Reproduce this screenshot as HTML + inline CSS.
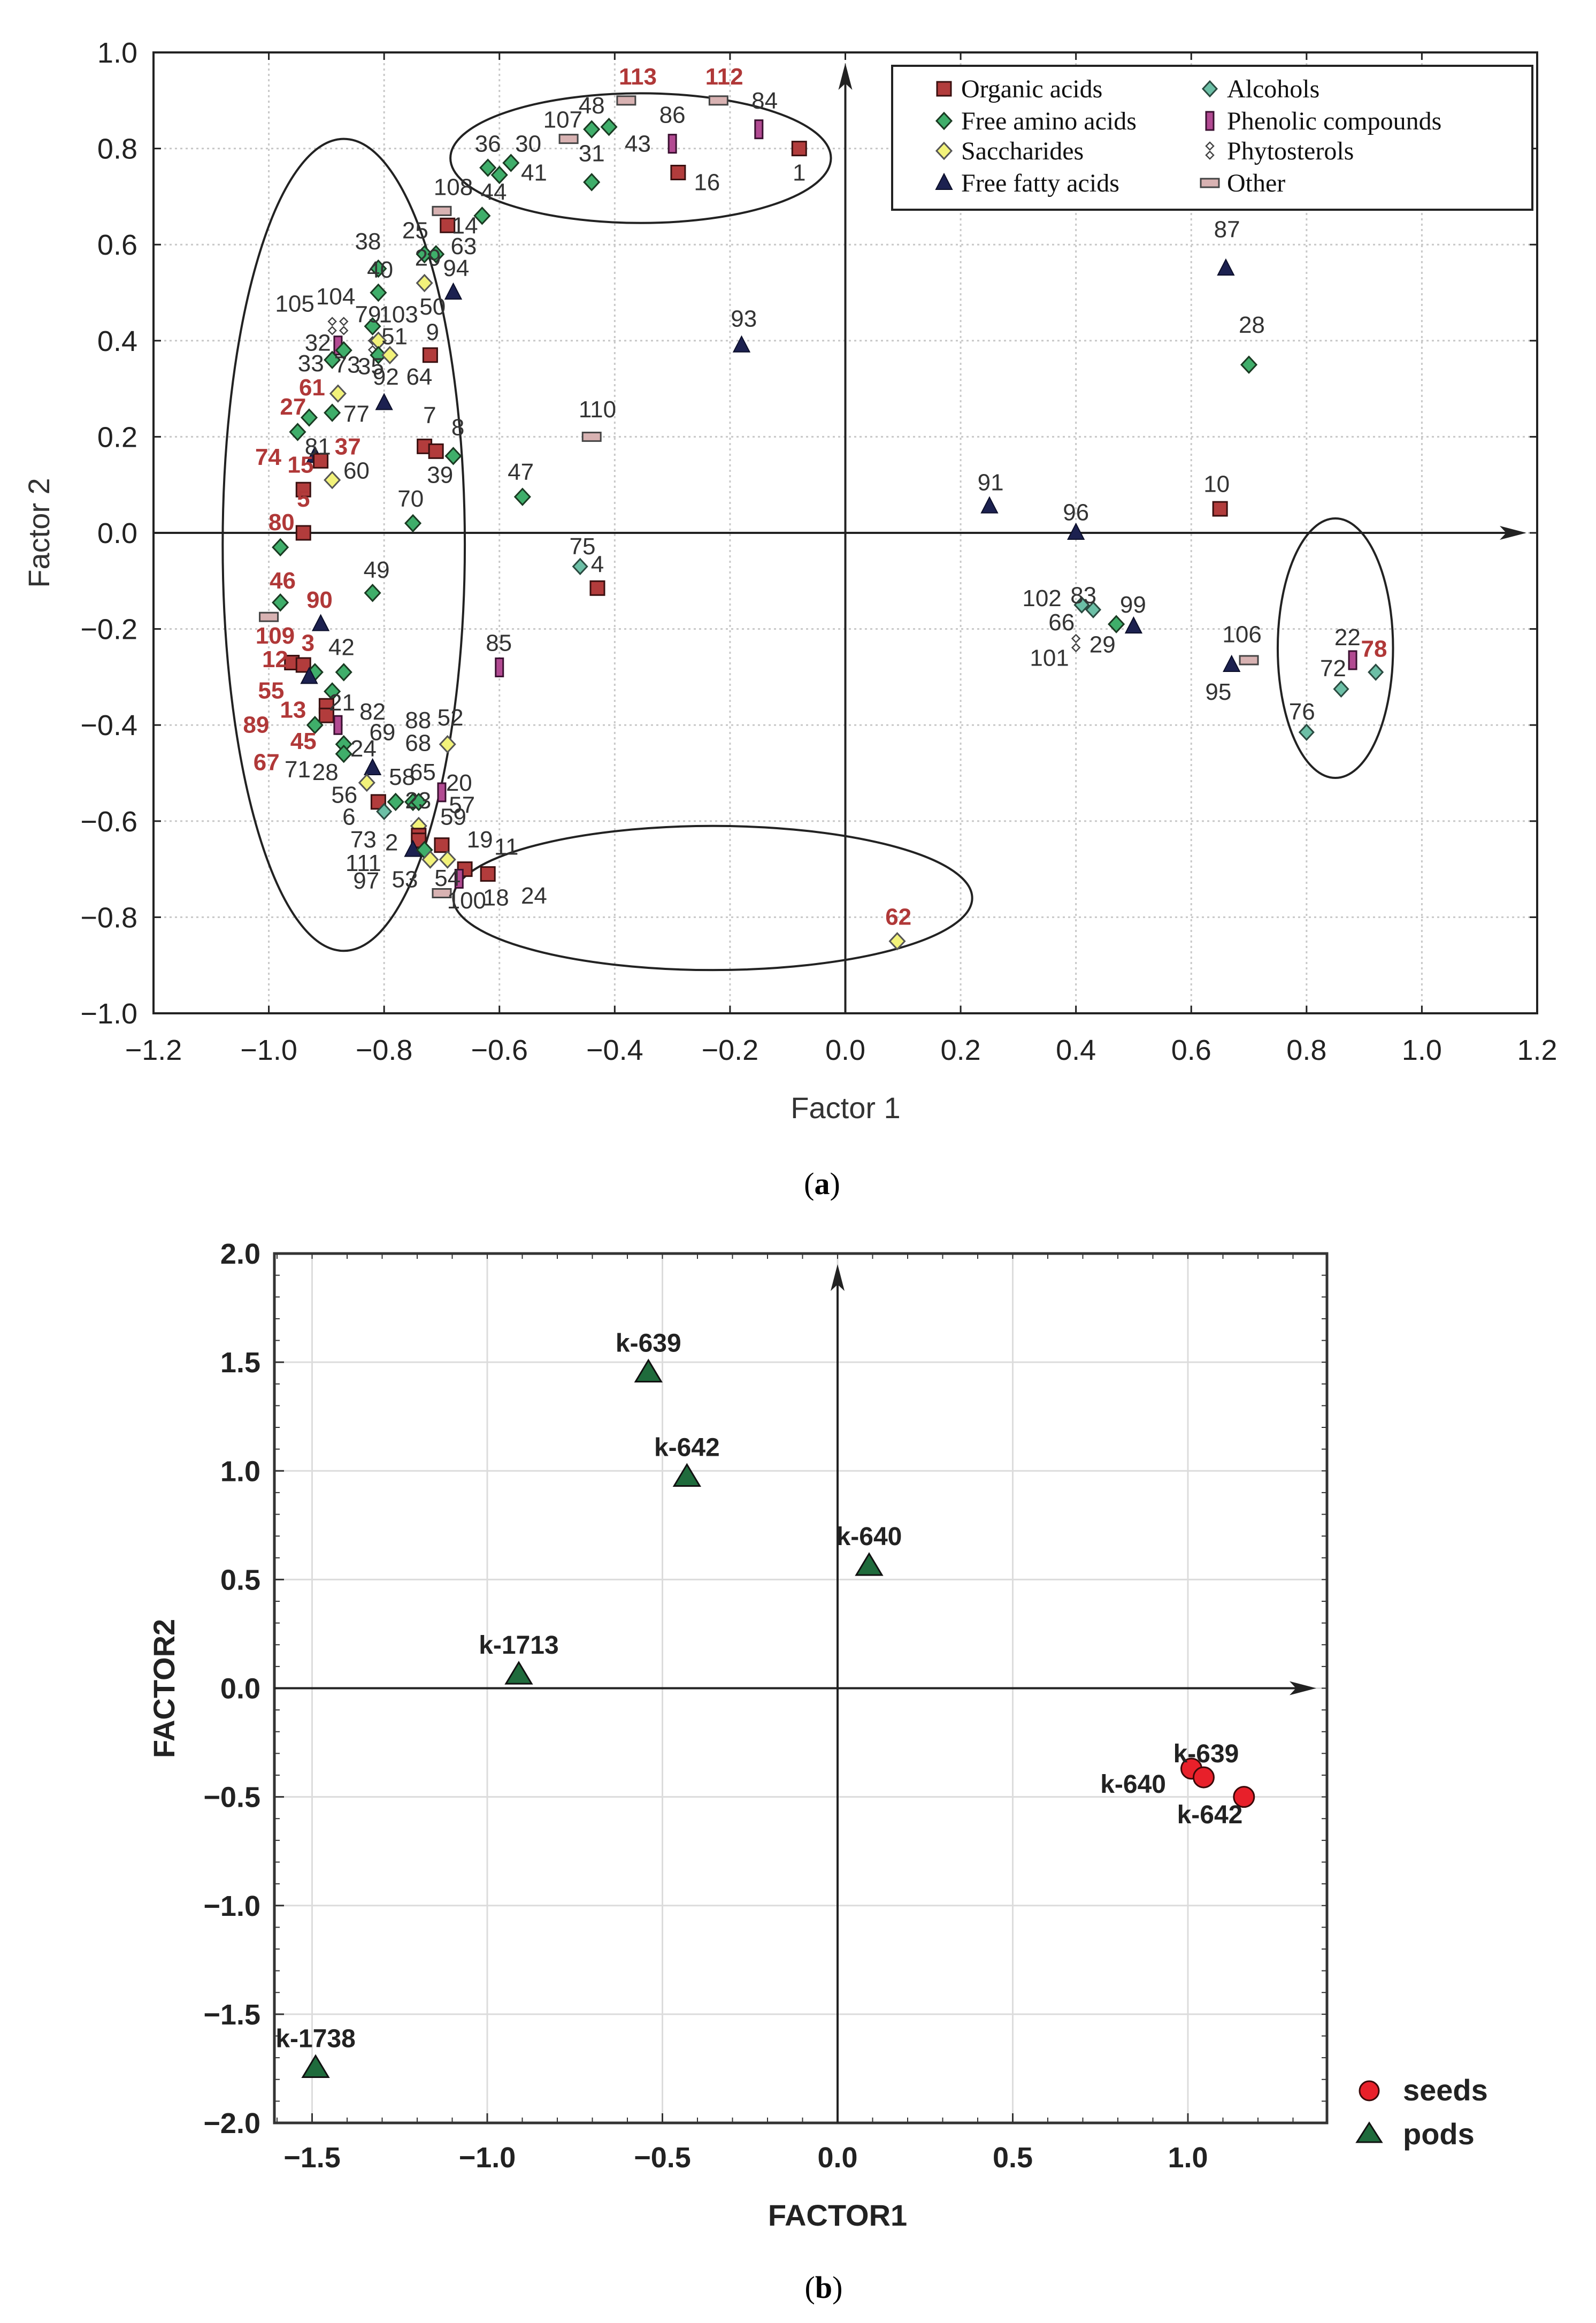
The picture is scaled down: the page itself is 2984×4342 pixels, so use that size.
<!DOCTYPE html>
<html><head><meta charset="utf-8">
<style>
html,body{margin:0;padding:0;background:#fff;}
svg{display:block;}
</style></head>
<body>
<svg id="fig" width="2984" height="4342" viewBox="0 0 2984 4342" xmlns="http://www.w3.org/2000/svg">
<rect x="0" y="0" width="2984" height="4342" fill="#fff"/>
<g id="pa"></g>
<g id="pb"></g>
<text x="1537" y="2232" font-family="Liberation Serif, serif" font-size="58" text-anchor="middle">(<tspan font-weight="bold">a</tspan>)</text>
<text x="1540" y="4295" font-family="Liberation Serif, serif" font-size="58" text-anchor="middle">(<tspan font-weight="bold">b</tspan>)</text>
</svg>
<script>
// ---------- Panel A data ----------
const aTypes = ["O","A","S","F","L","P","T","X"];
const aTypeNames = ["Organic acids","Free amino acids","Saccharides","Free fatty acids","Alcohols","Phenolic compounds","Phytosterols","Other"];
// points: [type, factor1, factor2]
const aPoints = [
["X",-0.38,0.90],["X",-0.22,0.90],["P",-0.15,0.84],["O",-0.08,0.80],["P",-0.30,0.81],["O",-0.29,0.75],
["X",-0.48,0.82],["A",-0.44,0.84],["A",-0.41,0.845],["A",-0.44,0.73],["A",-0.62,0.76],["A",-0.60,0.745],["A",-0.58,0.77],
["X",-0.70,0.67],["A",-0.63,0.66],["O",-0.69,0.64],["A",-0.73,0.58],["A",-0.71,0.58],["F",-0.68,0.50],
["A",-0.81,0.55],["A",-0.81,0.50],["S",-0.73,0.52],["T",-0.89,0.43],["T",-0.87,0.43],["A",-0.82,0.43],
["P",-0.88,0.39],["A",-0.87,0.38],["T",-0.82,0.39],["S",-0.81,0.40],["A",-0.81,0.37],["S",-0.79,0.37],
["O",-0.72,0.37],["A",-0.89,0.36],["F",-0.80,0.27],["S",-0.88,0.29],["A",-0.93,0.24],["A",-0.89,0.25],
["A",-0.95,0.21],["O",-0.73,0.18],["O",-0.71,0.17],["A",-0.68,0.16],["F",-0.92,0.16],["O",-0.91,0.15],
["S",-0.89,0.11],["O",-0.94,0.09],["A",-0.56,0.075],["A",-0.75,0.02],["O",-0.94,0.0],["A",-0.98,-0.03],
["X",-0.44,0.20],["F",-0.18,0.39],["L",-0.46,-0.07],["O",-0.43,-0.115],["A",-0.98,-0.145],["A",-0.82,-0.125],
["X",-1.0,-0.175],["F",-0.91,-0.19],["O",-0.96,-0.27],["O",-0.94,-0.275],["A",-0.92,-0.29],["F",-0.93,-0.30],["A",-0.87,-0.29],
["P",-0.60,-0.28],["A",-0.89,-0.33],["O",-0.90,-0.36],["O",-0.90,-0.38],["P",-0.88,-0.40],["A",-0.92,-0.40],
["A",-0.87,-0.44],["A",-0.87,-0.46],["F",-0.82,-0.49],["S",-0.83,-0.52],["S",-0.69,-0.44],
["O",-0.81,-0.56],["A",-0.78,-0.56],["A",-0.75,-0.56],["A",-0.74,-0.56],["L",-0.80,-0.58],["P",-0.70,-0.54],
["S",-0.74,-0.61],["O",-0.74,-0.63],["O",-0.74,-0.64],["F",-0.75,-0.66],["A",-0.73,-0.66],["O",-0.70,-0.65],
["S",-0.72,-0.68],["S",-0.69,-0.68],["O",-0.66,-0.70],["O",-0.62,-0.71],["P",-0.67,-0.72],["X",-0.70,-0.75],
["S",0.09,-0.85],["F",0.25,0.055],["F",0.40,0.0],["O",0.65,0.05],["F",0.66,0.55],["A",0.70,0.35],
["L",0.41,-0.15],["L",0.43,-0.16],["A",0.47,-0.19],["T",0.40,-0.23],["F",0.50,-0.195],
["F",0.67,-0.275],["X",0.70,-0.265],["P",0.88,-0.265],["L",0.92,-0.29],["L",0.86,-0.325],["L",0.80,-0.415]
];
// labels: [text, factor1, factor2, highlighted(1=red bold)]
const aLabels = [
["113",-0.36,0.95,1],["112",-0.21,0.95,1],["84",-0.14,0.90,0],["1",-0.08,0.75,0],["86",-0.30,0.87,0],["16",-0.24,0.73,0],
["107",-0.49,0.86,0],["48",-0.44,0.89,0],["43",-0.36,0.81,0],["31",-0.44,0.79,0],["36",-0.62,0.81,0],["30",-0.55,0.81,0],
["41",-0.54,0.75,0],["108",-0.68,0.72,0],["44",-0.61,0.71,0],["14",-0.66,0.64,0],["25",-0.746,0.63,0],["63",-0.662,0.597,0],
["29",-0.724,0.573,0],["94",-0.675,0.551,0],["38",-0.828,0.607,0],["40",-0.807,0.548,0],["105",-0.955,0.477,0],["104",-0.884,0.492,0],
["79",-0.828,0.455,0],["103",-0.775,0.455,0],["50",-0.716,0.471,0],["32",-0.915,0.396,0],["51",-0.782,0.409,0],["9",-0.716,0.418,0],
["33",-0.927,0.353,0],["73",-0.864,0.350,0],["35",-0.823,0.347,0],["92",-0.797,0.325,0],["64",-0.739,0.325,0],["61",-0.925,0.303,1],
["27",-0.958,0.263,1],["77",-0.848,0.248,0],["7",-0.721,0.245,0],["8",-0.672,0.220,0],["81",-0.915,0.180,0],["74",-1.001,0.158,1],
["37",-0.863,0.180,1],["15",-0.945,0.142,1],["60",-0.848,0.130,0],["39",-0.703,0.121,0],["70",-0.754,0.071,0],["47",-0.563,0.127,0],
["5",-0.940,0.071,1],["80",-0.978,0.022,1],["110",-0.430,0.257,0],["93",-0.176,0.446,0],["75",-0.456,-0.028,0],["4",-0.430,-0.065,0],
["46",-0.976,-0.099,1],["49",-0.813,-0.077,0],["90",-0.912,-0.139,1],["109",-0.989,-0.214,1],["3",-0.932,-0.229,1],["42",-0.874,-0.238,0],
["12",-0.989,-0.263,1],["85",-0.601,-0.229,0],["55",-0.996,-0.328,1],["21",-0.873,-0.353,0],["13",-0.958,-0.368,1],["82",-0.820,-0.372,0],
["88",-0.741,-0.390,0],["52",-0.685,-0.384,0],["89",-1.022,-0.399,1],["69",-0.803,-0.415,0],["68",-0.741,-0.437,0],["45",-0.940,-0.433,1],
["24",-0.836,-0.449,0],["67",-1.004,-0.477,1],["71",-0.950,-0.492,0],["28",-0.902,-0.498,0],["58",-0.769,-0.508,0],["65",-0.733,-0.498,0],
["20",-0.670,-0.520,0],["56",-0.869,-0.545,0],["23",-0.741,-0.557,0],["57",-0.665,-0.566,0],["6",-0.861,-0.591,0],["59",-0.680,-0.591,0],
["73",-0.836,-0.638,0],["2",-0.787,-0.644,0],["19",-0.634,-0.638,0],["11",-0.588,-0.653,0],["111",-0.836,-0.687,0],["97",-0.831,-0.724,0],
["53",-0.764,-0.721,0],["54",-0.690,-0.718,0],["18",-0.606,-0.759,0],["24",-0.540,-0.755,0],["100",-0.657,-0.765,0],["62",0.092,-0.799,1],
["87",0.662,0.632,0],["28",0.705,0.433,0],["91",0.252,0.105,0],["96",0.400,0.043,0],["10",0.644,0.102,0],["102",0.341,-0.136,0],
["83",0.413,-0.130,0],["66",0.375,-0.186,0],["29",0.446,-0.232,0],["101",0.354,-0.260,0],["99",0.499,-0.149,0],["106",0.688,-0.211,0],
["95",0.647,-0.331,0],["22",0.871,-0.217,0],["78",0.917,-0.241,1],["72",0.846,-0.282,0],["76",0.792,-0.372,0]
];
// ellipses: [cx, cy, rx, ry]
const aEllipses = [[-0.87,-0.025,0.21,0.845],[-0.355,0.78,0.33,0.135],[-0.23,-0.76,0.45,0.15],[0.85,-0.24,0.10,0.27]];
const aXTicks = [-1.2,-1.0,-0.8,-0.6,-0.4,-0.2,0.0,0.2,0.4,0.6,0.8,1.0,1.2];
const aYTicks = [1.0,0.8,0.6,0.4,0.2,0.0,-0.2,-0.4,-0.6,-0.8,-1.0];

// ---------- Panel B data ----------
const bPodNames = ["k-639","k-642","k-640","k-1713","k-1738"];
const bPodF1 = [-0.54,-0.43,0.09,-0.91,-1.49];
const bPodF2 = [1.45,0.97,0.56,0.06,-1.75];
const bSeedNames = ["k-639","k-640","k-642"];
const bSeedF1 = [1.01,1.045,1.16];
const bSeedF2 = [-0.37,-0.41,-0.50];
const bXTicks = [-1.5,-1.0,-0.5,0.0,0.5,1.0];
const bYTicks = [2.0,1.5,1.0,0.5,0.0,-0.5,-1.0,-1.5,-2.0];

const NS="http://www.w3.org/2000/svg";
function mk(parent,tag,attrs){const e=document.createElementNS(NS,tag);for(const k in attrs)e.setAttribute(k,attrs[k]);parent.appendChild(e);return e;}
const fmt=v=>(v<0?"\u2212":"")+Math.abs(v).toFixed(1);

// ---------- draw panel A ----------
(function(){
const g=document.getElementById('pa');
const L=287,R=2874,T=98,B=1894;
const xs=v=>L+(v+1.2)/2.4*(R-L);
const ys=v=>T+(1.0-v)/2.0*(B-T);
// grid
aXTicks.forEach(t=>{if(t>-1.2&&t<1.2){const ln=mk(g,'line',{x1:xs(t),x2:xs(t),y1:T,y2:B,stroke:'#c8c8c8','stroke-width':3,'stroke-dasharray':'4,6'});
}});
aYTicks.forEach(t=>{if(t>-1&&t<1){const ln=mk(g,'line',{x1:L,x2:R,y1:ys(t),y2:ys(t),stroke:'#c8c8c8','stroke-width':3,'stroke-dasharray':'4,6'});
}});
// frame
const fr=mk(g,'rect',{x:L,y:T,width:R-L,height:B-T,fill:'none',stroke:'#222','stroke-width':4});

// ticks & labels
aXTicks.forEach(t=>{mk(g,'line',{x1:xs(t),x2:xs(t),y1:B,y2:B-14,stroke:'#222','stroke-width':3});
mk(g,'line',{x1:xs(t),x2:xs(t),y1:T,y2:T+14,stroke:'#222','stroke-width':3});
const tx=mk(g,'text',{x:xs(t),y:B+87,'font-family':'Liberation Sans, sans-serif','font-size':54,'text-anchor':'middle',fill:'#222'});tx.textContent=fmt(t);
});
aYTicks.forEach(t=>{mk(g,'line',{x1:L,x2:L+14,y1:ys(t),y2:ys(t),stroke:'#222','stroke-width':3});
mk(g,'line',{x1:R,x2:R-14,y1:ys(t),y2:ys(t),stroke:'#222','stroke-width':3});
const tx=mk(g,'text',{x:257,y:ys(t)+19,'font-family':'Liberation Sans, sans-serif','font-size':54,'text-anchor':'end',fill:'#222'});tx.textContent=fmt(t);
});
// axes with arrows
const ax=mk(g,'line',{x1:L,x2:R-30,y1:ys(0),y2:ys(0),stroke:'#222','stroke-width':4});

mk(g,'path',{d:`M${R-20} ${ys(0)} l-50 -13 l12 13 l-12 13 z`,fill:'#222'});
const ay=mk(g,'line',{x1:xs(0),x2:xs(0),y1:T+30,y2:B,stroke:'#222','stroke-width':4});

mk(g,'path',{d:`M${xs(0)} ${T+20} l-13 50 l13 -12 l13 12 z`,fill:'#222'});
// ellipses
aEllipses.forEach(e=>{const el=mk(g,'ellipse',{cx:xs(e[0]),cy:ys(e[1]),rx:e[2]/2.4*(R-L),ry:e[3]/2.0*(B-T),fill:'none',stroke:'#222','stroke-width':4});
});
// markers
function marker(parent,type,cx,cy){
 let e;
 if(type==='O'){e=mk(parent,'rect',{x:cx-13,y:cy-13,width:26,height:26,fill:'#b23c3c',stroke:'#3a1010','stroke-width':3});}
 else if(type==='A'){e=mk(parent,'path',{d:`M${cx} ${cy-15} L${cx+14} ${cy} L${cx} ${cy+15} L${cx-14} ${cy} Z`,fill:'#3fae6a',stroke:'#1a3a22','stroke-width':3});}
 else if(type==='S'){e=mk(parent,'path',{d:`M${cx} ${cy-15} L${cx+14} ${cy} L${cx} ${cy+15} L${cx-14} ${cy} Z`,fill:'#f2f27a',stroke:'#555','stroke-width':3});}
 else if(type==='L'){e=mk(parent,'path',{d:`M${cx} ${cy-14} L${cx+13} ${cy} L${cx} ${cy+14} L${cx-13} ${cy} Z`,fill:'#6cbfa6',stroke:'#2a4a40','stroke-width':3});}
 else if(type==='F'){e=mk(parent,'path',{d:`M${cx} ${cy-17} L${cx+15} ${cy+12} L${cx-15} ${cy+12} Z`,fill:'#1c2150',stroke:'#0c0f2a','stroke-width':2});}
 else if(type==='P'){e=mk(parent,'rect',{x:cx-7,y:cy-17,width:14,height:34,fill:'#b24a92',stroke:'#3a1030','stroke-width':3});}
 else if(type==='T'){e=mk(parent,'path',{d:`M${cx} ${cy-16} l7 7 l-7 7 l-7 -7 z M${cx} ${cy+1} l7 7 l-7 7 l-7 -7 z`,fill:'#fff',stroke:'#444','stroke-width':2.5});}
 else {e=mk(parent,'rect',{x:cx-17,y:cy-8,width:34,height:16,fill:'#d8b2b2',stroke:'#444','stroke-width':3});}
 return e;
}
aPoints.forEach(p=>{const m=marker(g,p[0],xs(p[1]),ys(p[2]));

});
aLabels.forEach(l=>{const t=mk(g,'text',{x:xs(l[1]),y:ys(l[2])+15,'font-family':'Liberation Sans, sans-serif','font-size':44,'text-anchor':'middle',fill:l[3]?'#b03838':'#333','font-weight':l[3]?'bold':'normal'});
t.textContent=l[0];

});
// legend
const lg=mk(g,'g',{});

mk(lg,'rect',{x:1668,y:123,width:1197,height:269,fill:'#fff',stroke:'#222','stroke-width':4});
const rows=[168,228,284,344];
aTypeNames.forEach((nm,i)=>{const col=i<4?0:1;const r=i%4;
const order=["O","A","S","F","L","P","T","X"];
const cx=col?2262:1765,cy=rows[r]-2;
const m=marker(lg,order[i],cx,cy);

const t=mk(lg,'text',{x:cx+32,y:rows[r]+14,'font-family':'Liberation Serif, serif','font-size':48,fill:'#111'});
t.textContent=nm;

});
// titles
const xt=mk(g,'text',{x:1581,y:2090,'font-family':'Liberation Sans, sans-serif','font-size':56,'text-anchor':'middle',fill:'#333'});xt.textContent='Factor 1';

const yt=mk(g,'text',{x:0,y:0,transform:'translate(92 996) rotate(-90)','font-family':'Liberation Sans, sans-serif','font-size':56,'text-anchor':'middle',fill:'#333'});yt.textContent='Factor 2';

})();

// ---------- draw panel B ----------
(function(){
const g=document.getElementById('pb');
const L=513,R=2481,T=2343,B=3968;
const X0=1566,XU=655;
const xs=v=>X0+v*XU;
const ys=v=>T+(2.0-v)/4.0*(B-T);
bXTicks.forEach(t=>{if(xs(t)>L+5){const ln=mk(g,'line',{x1:xs(t),x2:xs(t),y1:T,y2:B,stroke:'#dcdcdc','stroke-width':3});
}});
bYTicks.forEach(t=>{if(t<2&&t>-2){const ln=mk(g,'line',{x1:L,x2:R,y1:ys(t),y2:ys(t),stroke:'#dcdcdc','stroke-width':3});
}});
const fr=mk(g,'rect',{x:L,y:T,width:R-L,height:B-T,fill:'none',stroke:'#333','stroke-width':5});

// minor ticks
for(let v=-1.6;v<=1.4;v+=0.1){const x=xs(v);if(x>L&&x<R){mk(g,'line',{x1:x,x2:x,y1:B,y2:B-10,stroke:'#333','stroke-width':2});mk(g,'line',{x1:x,x2:x,y1:T,y2:T+10,stroke:'#333','stroke-width':2});}}
for(let v=-2;v<=2;v+=0.1){const y=ys(v);mk(g,'line',{x1:L,x2:L+10,y1:y,y2:y,stroke:'#333','stroke-width':2});mk(g,'line',{x1:R,x2:R-10,y1:y,y2:y,stroke:'#333','stroke-width':2});}
bXTicks.forEach(t=>{mk(g,'line',{x1:xs(t),x2:xs(t),y1:B,y2:B-18,stroke:'#333','stroke-width':3});
const tx=mk(g,'text',{x:xs(t),y:B+83,'font-family':'Liberation Sans, sans-serif','font-size':54,'font-weight':'bold','text-anchor':'middle',fill:'#222'});tx.textContent=fmt(t);
});
bYTicks.forEach(t=>{mk(g,'line',{x1:L,x2:L+18,y1:ys(t),y2:ys(t),stroke:'#333','stroke-width':3});
const tx=mk(g,'text',{x:487,y:ys(t)+19,'font-family':'Liberation Sans, sans-serif','font-size':54,'font-weight':'bold','text-anchor':'end',fill:'#222'});tx.textContent=fmt(t);
});
const ax=mk(g,'line',{x1:L,x2:R-30,y1:ys(0),y2:ys(0),stroke:'#222','stroke-width':4});

mk(g,'path',{d:`M${R-20} ${ys(0)} l-50 -13 l12 13 l-12 13 z`,fill:'#222'});
const ay=mk(g,'line',{x1:xs(0),x2:xs(0),y1:T+30,y2:B,stroke:'#222','stroke-width':4});

mk(g,'path',{d:`M${xs(0)} ${T+20} l-13 50 l13 -12 l13 12 z`,fill:'#222'});
bPodNames.forEach((n,i)=>{const cx=xs(bPodF1[i]),cy=ys(bPodF2[i]);
const m=mk(g,'path',{d:`M${cx} ${cy-24} L${cx+24} ${cy+16} L${cx-24} ${cy+16} Z`,fill:'#1f6b3c',stroke:'#111','stroke-width':3});


const t=mk(g,'text',{x:cx,y:cy-40,'font-family':'Liberation Sans, sans-serif','font-size':48,'font-weight':'bold','text-anchor':'middle',fill:'#222'});t.textContent=n;

});
bSeedNames.forEach((n,i)=>{const cx=xs(bSeedF1[i]),cy=ys(bSeedF2[i]);
const m=mk(g,'circle',{cx:cx,cy:cy,r:19,fill:'#e8202a',stroke:'#3a0808','stroke-width':3});

});
const sl=[["k-639",2255,3294,'middle'],["k-640",2180,3351,'end'],["k-642",2262,3408,'middle']];
sl.forEach(s=>{const t=mk(g,'text',{x:s[1],y:s[2],'font-family':'Liberation Sans, sans-serif','font-size':48,'font-weight':'bold','text-anchor':s[3],fill:'#222'});t.textContent=s[0];

});
// legend
const lg=mk(g,'g',{});

mk(lg,'circle',{cx:2560,cy:3908,r:18,fill:'#e8202a',stroke:'#3a0808','stroke-width':3});
mk(lg,'path',{d:`M2560 3968 L2583 4004 L2537 4004 Z`,fill:'#1f6b3c',stroke:'#111','stroke-width':3});
const t1=mk(lg,'text',{x:2623,y:3926,'font-family':'Liberation Sans, sans-serif','font-size':56,'font-weight':'bold',fill:'#222'});t1.textContent='seeds';

const t2=mk(lg,'text',{x:2623,y:4008,'font-family':'Liberation Sans, sans-serif','font-size':56,'font-weight':'bold',fill:'#222'});t2.textContent='pods';

const xt=mk(g,'text',{x:1566,y:4160,'font-family':'Liberation Sans, sans-serif','font-size':56,'font-weight':'bold','text-anchor':'middle',fill:'#222'});xt.textContent='FACTOR1';

const yt=mk(g,'text',{x:0,y:0,transform:'translate(326 3156) rotate(-90)','font-family':'Liberation Sans, sans-serif','font-size':56,'font-weight':'bold','text-anchor':'middle',fill:'#222'});yt.textContent='FACTOR2';

})();
</script>
</body></html>
